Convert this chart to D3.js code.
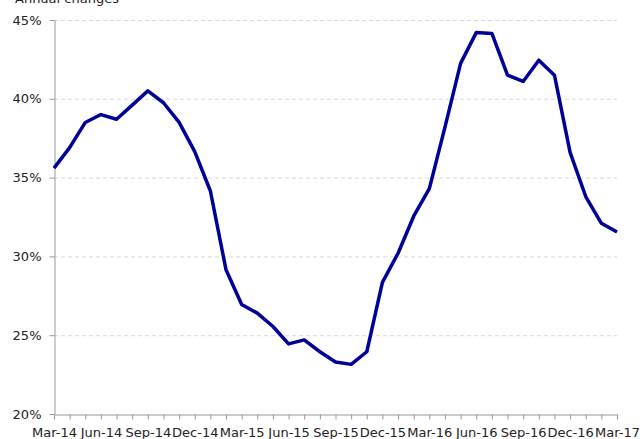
<!DOCTYPE html>
<html><head><meta charset="utf-8">
<script src="https://cdn.jsdelivr.net/npm/d3@7"></script>
<style>body{margin:0;background:#fff}svg{display:block}</style>
</head><body>
<svg id="c" width="643" height="439"></svg>
<script>
const months = ["Mar-14","Apr-14","May-14","Jun-14","Jul-14","Aug-14","Sep-14","Oct-14","Nov-14","Dec-14",
"Jan-15","Feb-15","Mar-15","Apr-15","May-15","Jun-15","Jul-15","Aug-15","Sep-15","Oct-15","Nov-15","Dec-15",
"Jan-16","Feb-16","Mar-16","Apr-16","May-16","Jun-16","Jul-16","Aug-16","Sep-16","Oct-16","Nov-16","Dec-16",
"Jan-17","Feb-17","Mar-17"];
const values = [35.6,36.9,38.5,39.0,38.7,39.6,40.5,39.75,38.5,36.65,
34.15,29.15,26.95,26.4,25.55,24.45,24.7,23.95,23.3,23.15,23.95,28.35,
30.2,32.55,34.3,38.2,42.25,44.2,44.15,41.5,41.1,42.45,41.5,36.6,
33.8,32.1,31.55];
const yTicks = [20,25,30,35,40,45];
const xLabelEvery = 3;
const title = "Annual changes";

(function(){
const svg = d3.select("#c");
const mL = 54, mR = 617, mT = 20, mB = 414;
const x = d3.scalePoint().domain(months).range([mL, mR]);
const y = d3.scaleLinear().domain([20,45]).range([mB, mT]);
const font = "'DejaVu Sans', Verdana, sans-serif";

// gridlines
svg.append("g").selectAll("line").data(yTicks.filter(d=>d>20)).join("line")
  .attr("x1", mL).attr("x2", mR)
  .attr("y1", d=>y(d)+0.5).attr("y2", d=>y(d)+0.5)
  .attr("stroke", "#d9d9d9").attr("stroke-width", 1).attr("stroke-dasharray", "4,3");

// y axis
const ya = svg.append("g").attr("transform", `translate(${mL+0.5},0)`)
  .call(d3.axisLeft(y).tickValues(yTicks).tickFormat(d=>d+"%").tickSize(5).tickSizeOuter(0));
ya.select(".domain").attr("stroke", "#999");
ya.selectAll(".tick line").attr("stroke", "#999");
ya.selectAll("text").attr("font-family", font).attr("font-size", "13px").attr("fill", "#222").attr("dx", "-5");

// x axis
const xa = svg.append("g").attr("transform", `translate(0,${mB+0.5})`)
  .call(d3.axisBottom(x).tickSize(5).tickSizeOuter(0)
    .tickFormat((d,i)=> i % xLabelEvery === 0 ? d : ""));
xa.select(".domain").attr("stroke", "#999");
xa.selectAll(".tick line").attr("stroke", "#999");
xa.selectAll("text").attr("font-family", font).attr("font-size", "13px").attr("fill", "#222").attr("dy", "1.12em");

// line
svg.append("path").datum(values)
  .attr("fill", "none").attr("stroke", "#000099").attr("stroke-width", 3.5)
  .attr("stroke-linejoin", "round")
  .attr("d", d3.line().x((d,i)=>x(months[i])).y(d=>y(d)));

// title
svg.append("text").attr("x", 15).attr("y", 3).text(title)
  .attr("font-family", font).attr("font-size", "13px").attr("fill", "#222");
})();
</script>
</body></html>
